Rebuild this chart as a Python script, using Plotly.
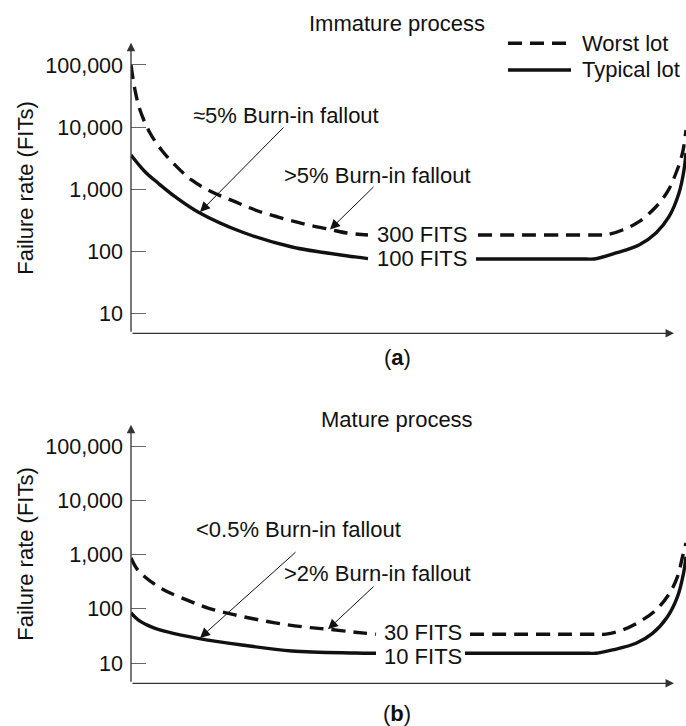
import math
import plotly.graph_objects as go

# ---------------- data (time in arbitrary units, failure rate in FITs) -------------
t_imm_worst = [0, 0.8, 1.8, 3.8, 6.1, 8.8, 12.1, 16.1, 20.8, 25.4, 30.8, 35.4, 39.8, 43.2, 47.4,
               None,
               69.4, 78.0, 87.0, 93.5, 95.0, 98.3, 101.6, 105.0, 107.3, 109.0, 110.3, 111.0]
fit_imm_worst = [100000, 39500, 18800, 8030, 4280, 2450, 1405, 910, 628, 445, 330, 265, 224,
                 197, 183,
                 None,
                 183, 183, 183, 183, 183, 220, 299, 521, 910, 1820, 3820, 8970]

t_imm_typ = [0, 2.8, 5.4, 8.8, 13.4, 22.2, 32.2, 44.8, 47.4,
             None,
             69.0, 77.0, 85.0, 91.0, 92.6, 97.0, 101.6, 105.0, 107.6, 109.6, 110.6, 111.0]
fit_imm_typ = [3550, 1910, 1256, 757, 429, 204, 117, 81, 76,
               None,
               75, 75, 75, 75, 75, 94, 126, 197, 360, 867, 2040, 3820]

t_mat_worst = [0, 1.1, 2.8, 5.5, 7.4, 11.5, 15.4, 20.8, 28.8, 34.8, 39.4, 44.8, 49.0,
               None,
               67.8, 77.0, 86.0, 93.5, 95.0, 98.3, 101.7, 105.0, 107.7, 109.3, 110.3, 111.0]
fit_mat_worst = [861, 557, 385, 255, 204, 141, 103, 77, 55, 46, 42, 37, 34,
                 None,
                 34, 34, 34, 34, 34, 40.6, 57.7, 94.9, 193, 390, 910, 1630]

t_mat_typ = [0, 1.5, 4.2, 7.5, 13.4, 22.2, 32.2, 44.8, 49.0,
             None,
             66.8, 76.0, 85.0, 91.5, 93.0, 96.3, 101.0, 104.3, 107.3, 109.3, 110.5, 111.0]
fit_mat_typ = [84, 62, 46, 37, 28.5, 21.5, 16.6, 15.3, 15.1,
               None,
               15.1, 15.1, 15.1, 15.1, 15.1, 17.4, 23.1, 35.2, 71.3, 167, 450, 910]

tick_vals = [10, 100, 1000, 10000, 100000]
tick_text = ["10", "100", "1,000", "10,000", "100,000"]

series_names = ["Worst lot", "Typical lot"]
panel_titles = ["Immature process", "Mature process"]
panel_labels = ["(<b>a</b>)", "(<b>b</b>)"]
plateau_labels = [["300 FITS", "100 FITS"], ["30 FITS", "10 FITS"]]
fallout_labels = [["≈5% Burn-in fallout", ">5% Burn-in fallout"],
                  ["<0.5% Burn-in fallout", ">2% Burn-in fallout"]]

# ---------------- layout helpers -------------
W, H = 686, 726
L = 131
FONT = "Liberation Sans, Arial, Helvetica, sans-serif"
FS = 22
FS_TICK = 21.5
INK = "#111111"
AXC = "#666666"


def px(xpix):
    return (xpix - L) / (W - L)


def py(ypix):
    return 1 - ypix / H


fig = go.Figure()
dash = "14px,8px"
SMOOTH = 1.0

fig.add_trace(go.Scatter(x=t_imm_worst, y=fit_imm_worst, mode="lines", name=series_names[0],
                         line=dict(color=INK, width=3.4, dash=dash, shape="spline", smoothing=SMOOTH),
                         xaxis="x", yaxis="y", showlegend=False))
fig.add_trace(go.Scatter(x=t_imm_typ, y=fit_imm_typ, mode="lines", name=series_names[1],
                         line=dict(color=INK, width=3.4, shape="spline", smoothing=SMOOTH),
                         xaxis="x", yaxis="y", showlegend=False))
fig.add_trace(go.Scatter(x=t_mat_worst, y=fit_mat_worst, mode="lines", name=series_names[0],
                         line=dict(color=INK, width=3.4, dash=dash, shape="spline", smoothing=SMOOTH),
                         xaxis="x2", yaxis="y2", showlegend=False))
fig.add_trace(go.Scatter(x=t_mat_typ, y=fit_mat_typ, mode="lines", name=series_names[1],
                         line=dict(color=INK, width=3.4, shape="spline", smoothing=SMOOTH),
                         xaxis="x2", yaxis="y2", showlegend=False))

xcommon = dict(range=[0, 111], showgrid=False, zeroline=False, showticklabels=False,
               showline=False, ticks="", automargin=False)
ycommon = dict(type="log", showgrid=False, zeroline=False, showline=False, automargin=False,
               tickvals=tick_vals, ticktext=tick_text, ticks="inside", ticklen=15,
               tickwidth=1.3, tickcolor=AXC, ticklabelstandoff=7,
               tickfont=dict(family=FONT, size=FS_TICK, color=INK),
               title=dict(text="Failure rate (FITs)", font=dict(family=FONT, size=FS, color=INK),
                          standoff=5))

fig.update_layout(
    width=W, height=H,
    margin=dict(l=L, r=0, t=0, b=0, autoexpand=False),
    paper_bgcolor="white", plot_bgcolor="white",
    font=dict(family=FONT, size=FS, color=INK),
    xaxis=dict(domain=[0, 1], anchor="y", **xcommon),
    xaxis2=dict(domain=[0, 1], anchor="y2", **xcommon),
    yaxis=dict(domain=[py(333.3), py(42.7)], range=[0.678, 5.359], anchor="x", **ycommon),
    yaxis2=dict(domain=[py(683.3), py(424.7)], range=[0.626, 5.393], anchor="x2", **ycommon),
    showlegend=False,
)

ann = []
# axis arrows
for xa, ya in (("x", "y"), ("x2", "y2")):
    ann.append(dict(xref=f"{xa} domain", yref=f"{ya} domain", axref=f"{xa} domain",
                    ayref=f"{ya} domain", x=0, y=1, ax=0, ay=0, text="", showarrow=True,
                    arrowhead=2, arrowsize=1.3, arrowwidth=1.3, arrowcolor="#333"))
    ann.append(dict(xref=f"{xa} domain", yref=f"{ya} domain", axref=f"{xa} domain",
                    ayref=f"{ya} domain", x=px(674), y=0, ax=0, ay=0, text="", showarrow=True,
                    arrowhead=2, arrowsize=1.3, arrowwidth=1.3, arrowcolor="#333"))


def label(xpix, ypix, text, xanchor="center"):
    return dict(xref="paper", yref="paper", x=px(xpix), y=py(ypix), text=text,
                showarrow=False, xanchor=xanchor, yanchor="middle")


# titles and panel labels
ann.append(label(397, 23, panel_titles[0]))
ann.append(label(397, 420, panel_titles[1]))
ann.append(label(397, 357, panel_labels[0]))
ann.append(label(397, 713, panel_labels[1]))

# plateau labels (placed at plateau values)
ann.append(dict(xref="x", yref="y", x=58.2, y=math.log10(fit_imm_worst[16]),
                text=plateau_labels[0][0], showarrow=False))
ann.append(dict(xref="x", yref="y", x=58.2, y=math.log10(fit_imm_typ[10]),
                text=plateau_labels[0][1], showarrow=False))
ann.append(dict(xref="x2", yref="y2", x=58.4, y=math.log10(fit_mat_worst[14]), yshift=2,
                text=plateau_labels[1][0], showarrow=False))
ann.append(dict(xref="x2", yref="y2", x=58.4, y=math.log10(fit_mat_typ[10]), yshift=-3,
                text=plateau_labels[1][1], showarrow=False))

# fallout labels
ann.append(label(286, 115, fallout_labels[0][0]))
ann.append(label(377, 175, fallout_labels[0][1]))
ann.append(label(298, 529, fallout_labels[1][0]))
ann.append(label(377, 573, fallout_labels[1][1]))

# pointer arrows
arrow_style = dict(text="", showarrow=True, arrowhead=2, arrowsize=2, arrowwidth=1,
                   arrowcolor=INK, standoff=0)
ann.append(dict(xref="x", yref="y", x=13.8, y=math.log10(429), ax=85, ay=-86, **arrow_style))
ann.append(dict(xref="x", yref="y", x=39.8, y=math.log10(224), ax=45, ay=-44, **arrow_style))
ann.append(dict(xref="x2", yref="y2", x=13.8, y=math.log10(29), ax=97, ay=-87, **arrow_style))
ann.append(dict(xref="x2", yref="y2", x=39.4, y=math.log10(42), ax=47, ay=-44, **arrow_style))

# legend (drawn manually)
ann.append(label(580, 44, series_names[0], xanchor="left"))
ann.append(label(580, 70, series_names[1], xanchor="left"))
shapes = [
    dict(type="line", xref="paper", yref="paper", x0=px(508), x1=px(571), y0=py(43.3), y1=py(43.3),
         line=dict(color=INK, width=3.4, dash=dash)),
    dict(type="line", xref="paper", yref="paper", x0=px(508), x1=px(571), y0=py(70), y1=py(70),
         line=dict(color=INK, width=3.4)),
]

fig.update_layout(annotations=ann, shapes=shapes)
fig.write_html("out.html", config={"displayModeBar": False},
               post_script="document.body.style.margin='0';document.body.style.overflow='hidden';")
